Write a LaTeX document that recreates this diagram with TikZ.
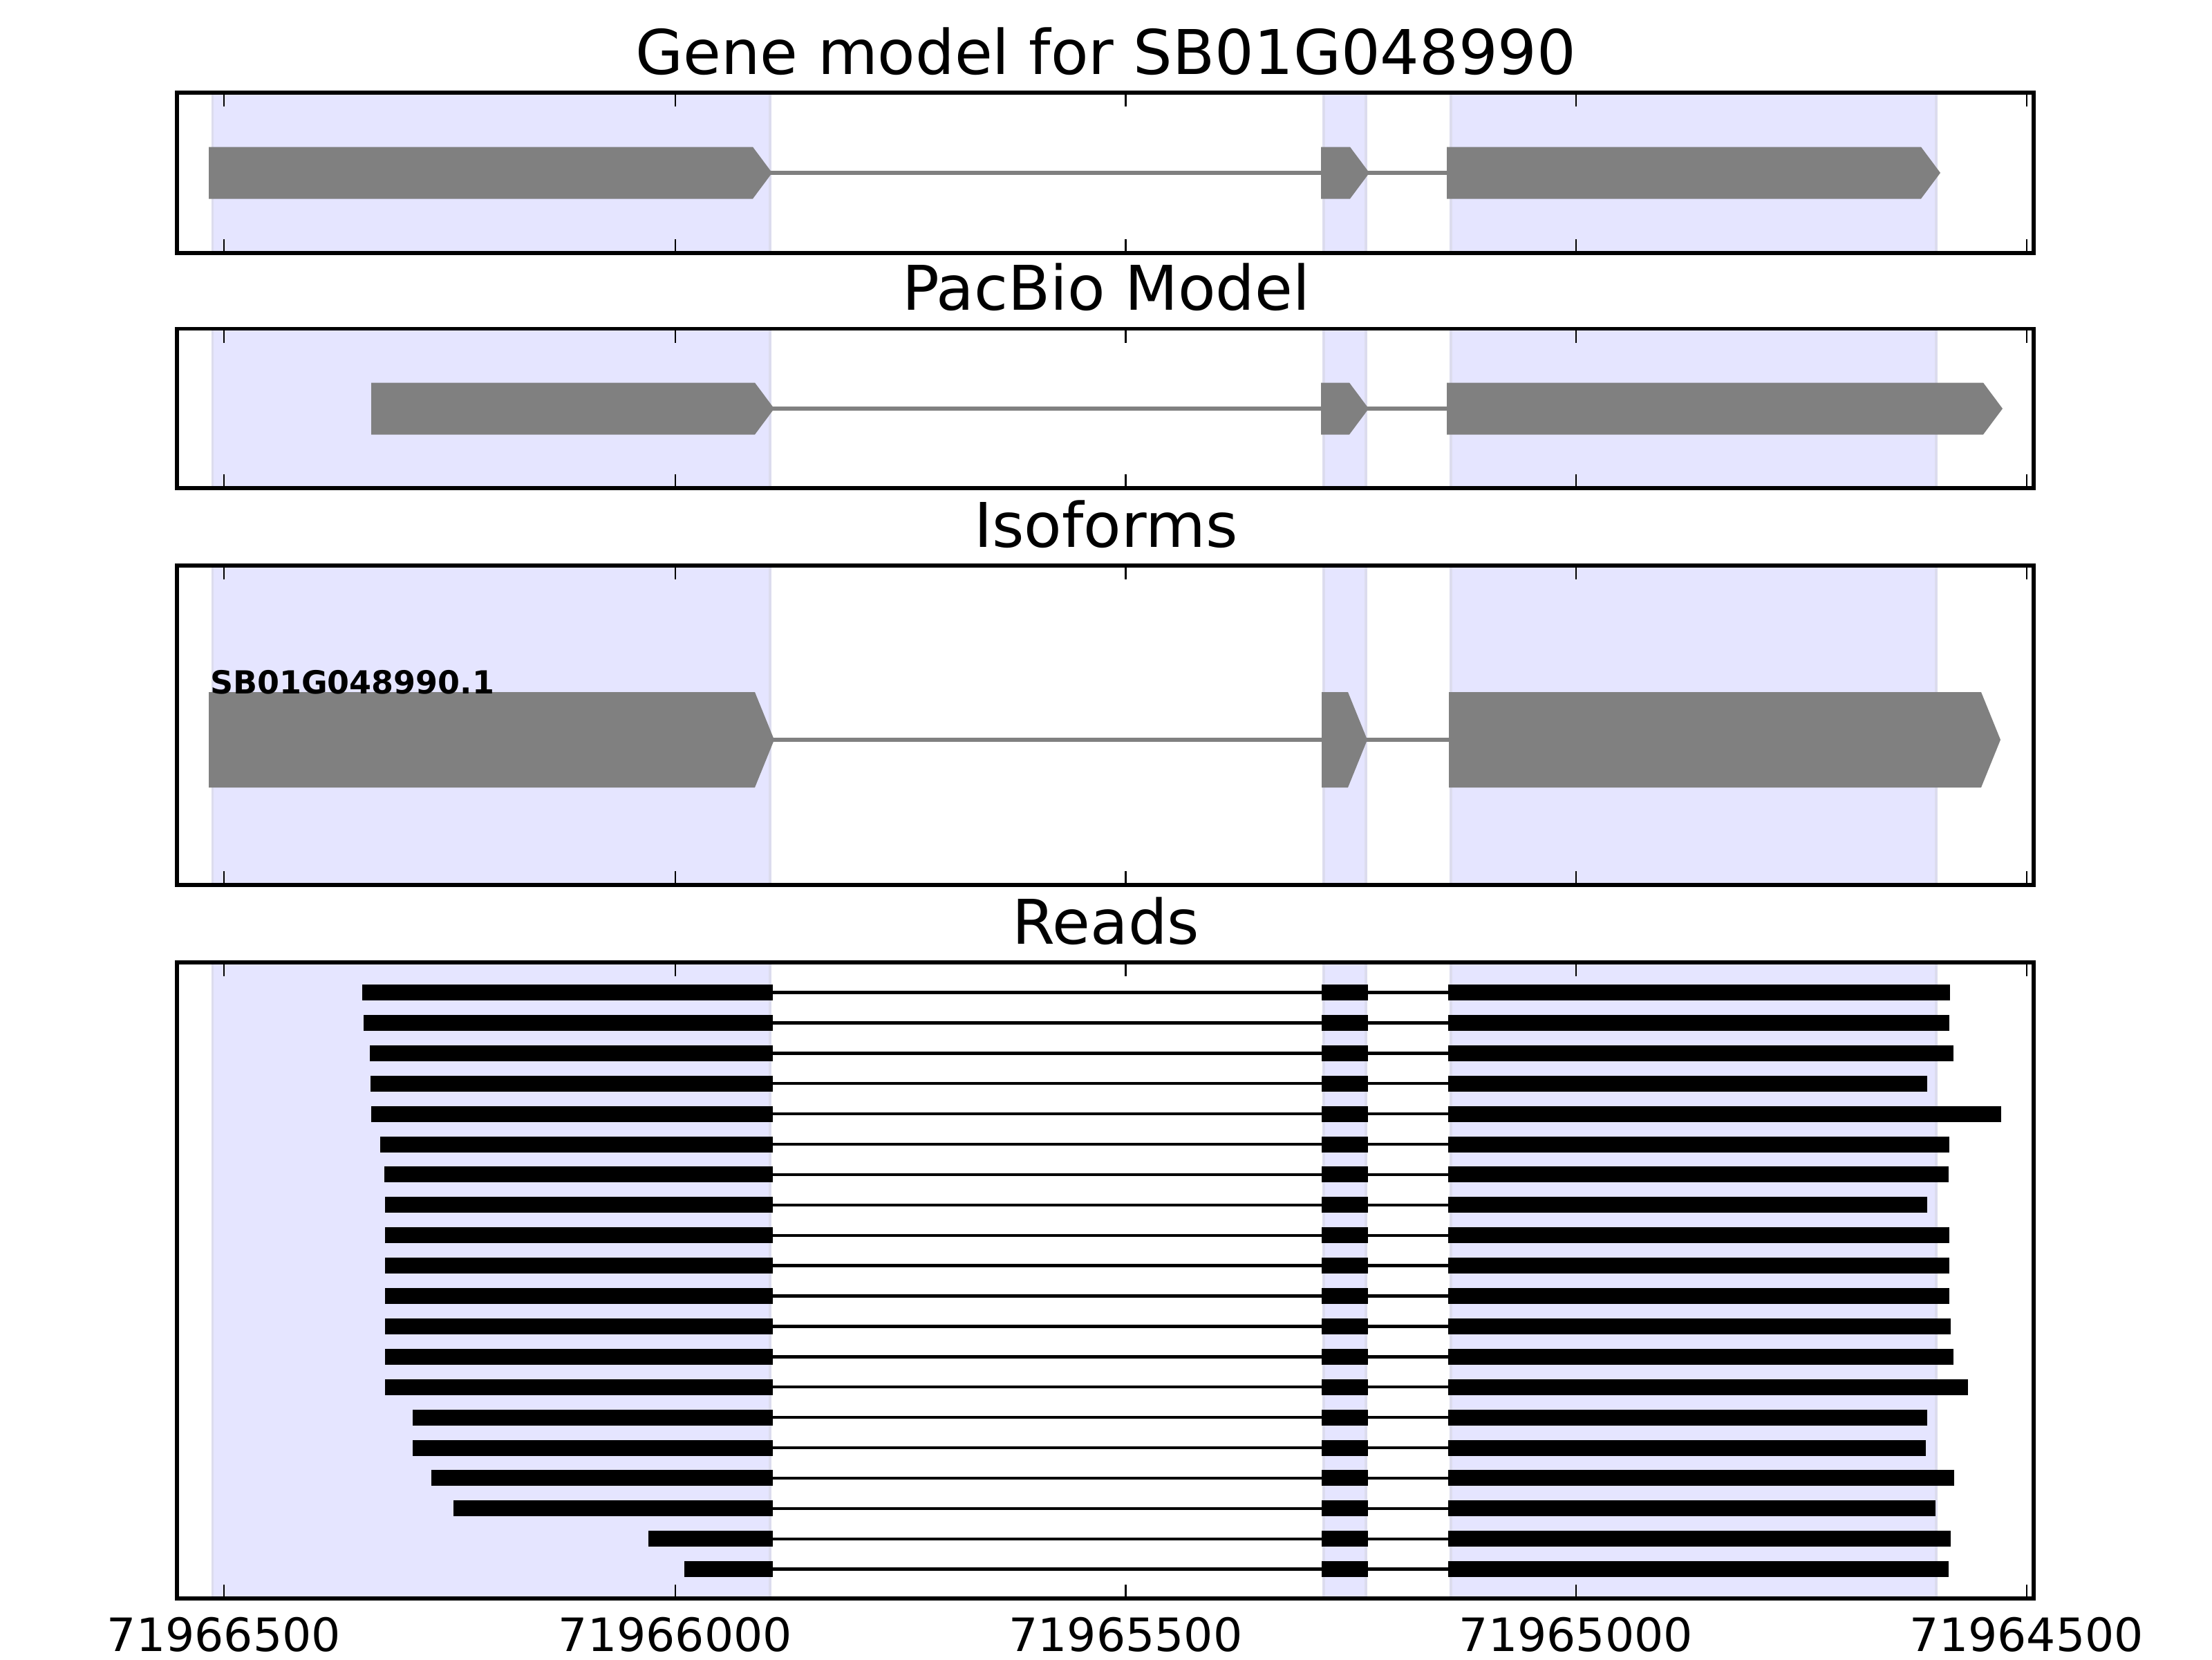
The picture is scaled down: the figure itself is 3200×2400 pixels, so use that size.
\documentclass[tikz,border=0pt]{standalone}
\usepackage{fontspec}
\setmainfont{DejaVu Sans}
\begin{document}
\begin{tikzpicture}[x=0.00635cm,y=-0.00635cm]
\definecolor{spancol}{RGB}{229,229,255}
\definecolor{spanedge}{RGB}{220,220,238}
\definecolor{genegray}{RGB}{128,128,128}
\tikzset{
  spanfill/.style={fill=spancol, draw=spanedge, line width=0.6pt},
  axframe/.style={draw=black, line width=1pt},
  tickmark/.style={draw=black, line width=0.5pt},
  intronline/.style={draw=genegray, line width=1pt},
  readline/.style={draw=black, line width=0.8pt},
  readbar/.style={fill=black},
  genebox/.style={fill=genegray},
  paneltitle/.style={font=\fontsize{16.1}{18}\selectfont, anchor=base, inner sep=0pt},
  ticklabel/.style={font=\fontsize{12}{14}\selectfont, anchor=base, inner sep=0pt},
  isolabel/.style={font=\fontsize{8.3}{10}\selectfont\bfseries, anchor=base west, inner sep=0pt}
}
\useasboundingbox (0,0) rectangle (3200,2400);
\fill[white] (0,0) rectangle (3200,2400);

% shaded exon spans in every panel
\foreach \t/\b in {134/366, 475.5/706, 818/1280, 1392/2312} {
  \filldraw[spanfill] (307.5,\t) rectangle (1114,\b);
  \filldraw[spanfill] (1915,\t) rectangle (1976,\b);
  \filldraw[spanfill] (2099,\t) rectangle (2801,\b);
}

% gene arrow macro: x0, tip x, center y, half height
\newcommand{\genearrow}[4]{%
  \fill[genebox] (#1,#3-#4) -- (#2-28,#3-#4) -- (#2,#3) -- (#2-28,#3+#4) -- (#1,#3+#4) -- cycle;}

% Panel 1: gene model
\draw[intronline] (1110,250) -- (1915,250);
\draw[intronline] (1975,250) -- (2098,250);
\genearrow{302}{1117}{250}{37.5}
\genearrow{1911}{1981}{250}{37.5}
\genearrow{2093}{2807}{250}{37.5}

% Panel 2: PacBio model
\draw[intronline] (1110,591) -- (1915,591);
\draw[intronline] (1975,591) -- (2098,591);
\genearrow{537}{1120}{591}{37.5}
\genearrow{1911}{1980}{591}{37.5}
\genearrow{2093}{2897}{591}{37.5}

% Panel 3: isoforms
\draw[intronline] (1110,1070) -- (1915,1070);
\draw[intronline] (1975,1070) -- (2100,1070);
\genearrow{302}{1120}{1070}{69}
\genearrow{1912}{1978}{1070}{69}
\genearrow{2096}{2894}{1070}{69}
\node[isolabel] (isoname) at (303,1003) {SB01G048990.1};

% Panel 4: reads
\foreach \s/\e [count=\i from 0] in {524/2821, 526/2820, 535/2826, 536/2788, 537/2895, 550/2820, 556/2819, 557/2788, 557/2820, 557/2820, 557/2820, 557/2822, 557/2826, 557/2847, 597/2788, 597/2786, 624/2827, 656/2800, 938/2822, 990/2819} {
  \pgfmathsetmacro{\yc}{1435.5+43.9*\i}
  \draw[readline] (1118,\yc) -- (2095,\yc);
  \fill[readbar] (\s,\yc-11.5) rectangle (1118,\yc+11.5);
  \fill[readbar] (1912,\yc-11.5) rectangle (1979,\yc+11.5);
  \fill[readbar] (2095,\yc-11.5) rectangle (\e,\yc+11.5);
}

% frames and ticks
\foreach \t/\b in {134/366, 475.5/706, 818/1280, 1392/2312} {
  \foreach \xt in {324, 977, 1628.5, 2280, 2932} {
    \draw[tickmark] (\xt,\t) -- (\xt,\t+20);
    \draw[tickmark] (\xt,\b) -- (\xt,\b-20);
  }
  \draw[axframe] (256,\t) rectangle (2942,\b);
}

% titles
\node[paneltitle] (title1) at (1600,107) {Gene model for SB01G048990};
\node[paneltitle] (title2) at (1600,448.5) {PacBio Model};
\node[paneltitle] (title3) at (1600,791) {Isoforms};
\node[paneltitle] (title4) at (1600,1365) {Reads};

% tick labels
\node[ticklabel] (xl1) at (324,2388) {71966500};
\node[ticklabel] (xl2) at (977,2388) {71966000};
\node[ticklabel] (xl3) at (1628.5,2388) {71965500};
\node[ticklabel] (xl4) at (2280,2388) {71965000};
\node[ticklabel] (xl5) at (2932,2388) {71964500};
\end{tikzpicture}
\end{document}
